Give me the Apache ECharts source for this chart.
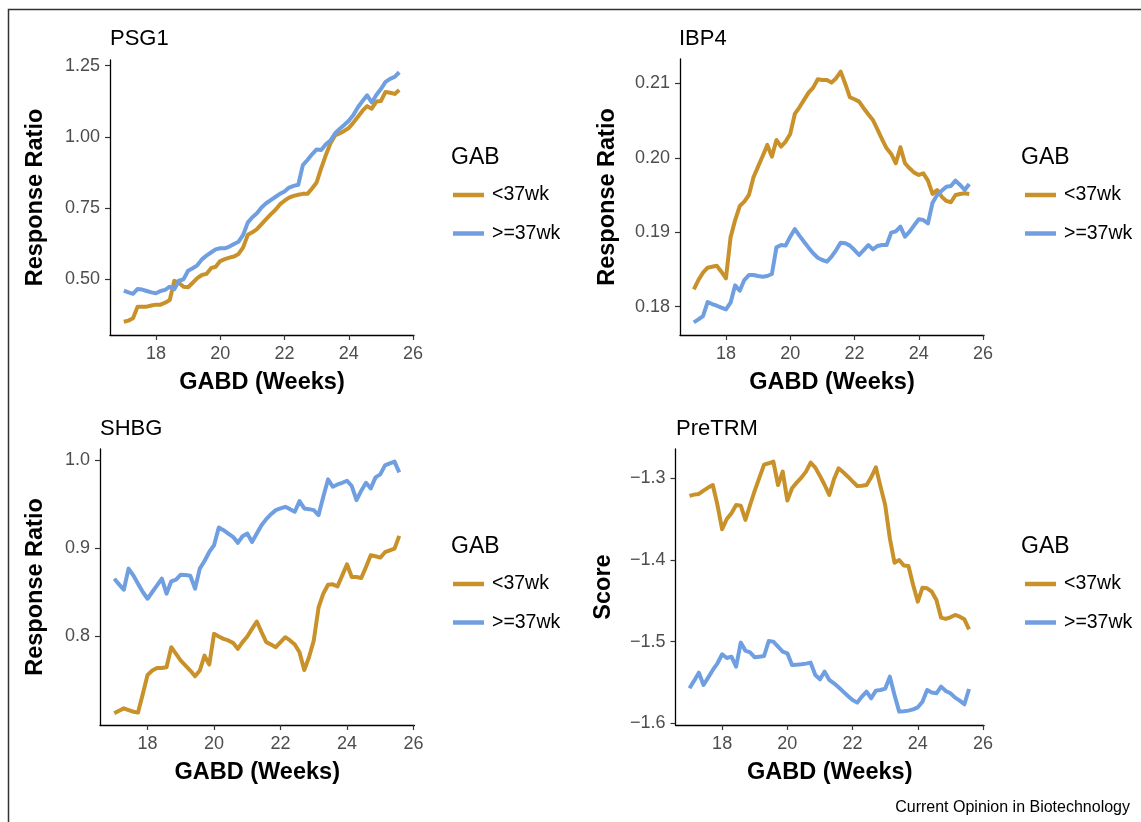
<!DOCTYPE html>
<html>
<head>
<meta charset="utf-8">
<script src="https://cdn.jsdelivr.net/npm/echarts@6/dist/echarts.min.js"></script>
<style>
  html, body { margin: 0; padding: 0; background: #fff; }
  #chart { width: 1141px; height: 822px; }
</style>
</head>
<body>
<div id="chart"></div>
<script>
// Gestational age at blood draw (weeks), one point per day
const weeks = [
  17, 17.143, 17.286, 17.429, 17.571, 17.714, 17.857,
  18, 18.143, 18.286, 18.429, 18.571, 18.714, 18.857,
  19, 19.143, 19.286, 19.429, 19.571, 19.714, 19.857,
  20, 20.143, 20.286, 20.429, 20.571, 20.714, 20.857,
  21, 21.143, 21.286, 21.429, 21.571, 21.714, 21.857,
  22, 22.143, 22.286, 22.429, 22.571, 22.714, 22.857,
  23, 23.143, 23.286, 23.429, 23.571, 23.714, 23.857,
  24, 24.143, 24.286, 24.429, 24.571, 24.714, 24.857,
  25, 25.143, 25.286, 25.429, 25.571
];
const seriesNames = ['<37wk', '>=37wk'];
const panelTitles = ['PSG1', 'IBP4', 'SHBG', 'PreTRM'];
const yTitles = ['Response Ratio', 'Response Ratio', 'Response Ratio', 'Score'];
const xTitle = 'GABD (Weeks)';
const legendTitle = 'GAB';
const footer = 'Current Opinion in Biotechnology';
const xTicks = [18, 20, 22, 24, 26];
const yTicksPSG1 = [0.5, 0.75, 1.0, 1.25];
const yTicksIBP4 = [0.18, 0.19, 0.20, 0.21];
const yTicksSHBG = [0.8, 0.9, 1.0];
const yTicksPreTRM = [-1.6, -1.5, -1.4, -1.3];

const psg1Pre = [0.351,0.355,0.363,0.404,0.404,0.404,0.408,0.411,0.411,0.418,0.427,0.495,0.488,0.474,0.472,0.488,0.504,0.515,0.519,0.539,0.544,0.564,0.571,0.576,0.580,0.589,0.612,0.656,0.665,0.676,0.694,0.711,0.728,0.743,0.763,0.776,0.787,0.793,0.797,0.800,0.800,0.819,0.840,0.890,0.936,0.977,1.005,1.012,1.021,1.031,1.050,1.071,1.092,1.108,1.099,1.124,1.126,1.158,1.155,1.151,1.165];
const psg1Term = [0.460,0.454,0.449,0.466,0.464,0.459,0.454,0.451,0.459,0.463,0.474,0.465,0.495,0.500,0.530,0.539,0.549,0.570,0.583,0.594,0.605,0.609,0.609,0.615,0.624,0.632,0.656,0.699,0.718,0.732,0.752,0.767,0.778,0.789,0.800,0.808,0.822,0.828,0.832,0.901,0.919,0.939,0.956,0.954,0.974,0.987,1.012,1.028,1.042,1.057,1.077,1.104,1.126,1.146,1.121,1.147,1.168,1.193,1.204,1.211,1.227];

const ibp4Pre = [0.18233,0.18358,0.18457,0.18524,0.18537,0.18551,0.18470,0.18381,0.18931,0.19164,0.19352,0.19411,0.19500,0.19738,0.19881,0.20024,0.20172,0.20015,0.20239,0.20150,0.20217,0.20320,0.20588,0.20678,0.20777,0.20875,0.20942,0.21054,0.21045,0.21045,0.21009,0.21068,0.21157,0.20991,0.20812,0.20785,0.20754,0.20665,0.20584,0.20508,0.20382,0.20248,0.20127,0.20051,0.19926,0.20141,0.19926,0.19858,0.19800,0.19769,0.19791,0.19693,0.19514,0.19567,0.19478,0.19420,0.19402,0.19500,0.19514,0.19523,0.19514];
const ibp4Term = [0.17790,0.17830,0.17875,0.18063,0.18036,0.18013,0.17987,0.17964,0.18054,0.18287,0.18215,0.18358,0.18425,0.18425,0.18412,0.18403,0.18412,0.18439,0.18797,0.18828,0.18820,0.18940,0.19043,0.18954,0.18873,0.18793,0.18717,0.18658,0.18627,0.18605,0.18672,0.18761,0.18860,0.18851,0.18820,0.18761,0.18694,0.18761,0.18828,0.18770,0.18815,0.18828,0.18828,0.18994,0.19012,0.19075,0.18940,0.19008,0.19093,0.19173,0.19164,0.19120,0.19397,0.19500,0.19558,0.19612,0.19621,0.19693,0.19635,0.19567,0.19648];

const shbgPre = [0.7129,0.7159,0.7186,0.7167,0.7148,0.7140,0.7348,0.7564,0.7614,0.7644,0.7644,0.7652,0.7879,0.7803,0.7727,0.7670,0.7614,0.7549,0.7614,0.7784,0.7682,0.8030,0.8000,0.7973,0.7955,0.7928,0.7860,0.7936,0.8000,0.8087,0.8170,0.8049,0.7936,0.7909,0.7879,0.7936,0.7992,0.7955,0.7909,0.7822,0.7621,0.7765,0.7955,0.8326,0.8485,0.8587,0.8591,0.8568,0.8693,0.8818,0.8674,0.8674,0.8663,0.8788,0.8920,0.8909,0.8894,0.8955,0.8977,0.8996,0.9140];
const shbgTerm = [0.8655,0.8591,0.8530,0.8769,0.8693,0.8598,0.8504,0.8428,0.8504,0.8580,0.8655,0.8485,0.8625,0.8644,0.8701,0.8697,0.8689,0.8542,0.8769,0.8856,0.8958,0.9034,0.9235,0.9205,0.9167,0.9129,0.9061,0.9136,0.9167,0.9072,0.9167,0.9261,0.9330,0.9386,0.9432,0.9451,0.9470,0.9443,0.9413,0.9534,0.9451,0.9443,0.9432,0.9375,0.9583,0.9780,0.9697,0.9723,0.9742,0.9765,0.9705,0.9545,0.9652,0.9742,0.9678,0.9803,0.9837,0.9939,0.9962,0.9981,0.9860];

const pretrmPre = [-1.3216,-1.3200,-1.3192,-1.3151,-1.3114,-1.3082,-1.3327,-1.3624,-1.3498,-1.3429,-1.3327,-1.3335,-1.3510,-1.3327,-1.3151,-1.2992,-1.2833,-1.2816,-1.2796,-1.3082,-1.2918,-1.3273,-1.3122,-1.3053,-1.2992,-1.2918,-1.2808,-1.2869,-1.2971,-1.3082,-1.3204,-1.3012,-1.2878,-1.2927,-1.2980,-1.3037,-1.3094,-1.3090,-1.3082,-1.2988,-1.2865,-1.3102,-1.3327,-1.3735,-1.4033,-1.4000,-1.4069,-1.4073,-1.4306,-1.4510,-1.4339,-1.4347,-1.4388,-1.4490,-1.4706,-1.4722,-1.4702,-1.4673,-1.4694,-1.4727,-1.4849];
const pretrmTerm = [-1.5571,-1.5478,-1.5380,-1.5531,-1.5441,-1.5347,-1.5265,-1.5155,-1.5200,-1.5184,-1.5306,-1.5012,-1.5110,-1.5131,-1.5192,-1.5184,-1.5176,-1.4992,-1.5000,-1.5061,-1.5122,-1.5143,-1.5286,-1.5282,-1.5278,-1.5269,-1.5257,-1.5408,-1.5461,-1.5367,-1.5469,-1.5510,-1.5559,-1.5612,-1.5665,-1.5714,-1.5747,-1.5673,-1.5612,-1.5694,-1.5600,-1.5592,-1.5576,-1.5429,-1.5653,-1.5857,-1.5853,-1.5845,-1.5829,-1.5804,-1.5735,-1.5592,-1.5624,-1.5633,-1.5551,-1.5604,-1.5633,-1.5686,-1.5722,-1.5767,-1.5580];

const COLORS = ['#C8912A', '#6F9FE1'];
const FONT = '"Liberation Sans", Arial, Helvetica, sans-serif';

const panels = [
  { pre: psg1Pre, term: psg1Term, yTicks: yTicksPSG1, dec: 2, ymin: 0.3044, ymax: 1.2700,
    grid: { left: 110, width: 304, top: 60, height: 275 }, nameGap: 62,
    legend: { left: 453, top: 185 }, gab: { x: 451, y: 158 }, title: { left: 110, top: 28 } },
  { pre: ibp4Pre, term: ibp4Term, yTicks: yTicksIBP4, dec: 2, ymin: 0.1762, ymax: 0.21326,
    grid: { left: 680, width: 304, top: 59, height: 276 }, nameGap: 60,
    legend: { left: 1025, top: 185 }, gab: { x: 1021, y: 158 }, title: { left: 679, top: 28 } },
  { pre: shbgPre, term: shbgTerm, yTicks: yTicksSHBG, dec: 1, ymin: 0.69972, ymax: 1.01246,
    grid: { left: 100, width: 314.5, top: 449, height: 276 }, nameGap: 52,
    legend: { left: 453, top: 574 }, gab: { x: 451, y: 547 }, title: { left: 100, top: 418 } },
  { pre: pretrmPre, term: pretrmTerm, yTicks: yTicksPreTRM, dec: 1, ymin: -1.60208, ymax: -1.26412,
    grid: { left: 675.5, width: 308.5, top: 449, height: 276 }, nameGap: 60,
    legend: { left: 1025, top: 574 }, gab: { x: 1021, y: 547 }, title: { left: 676, top: 418 } }
];

const chart = echarts.init(document.getElementById('chart'), null, { renderer: 'canvas' });

const grids = [], xAxes = [], yAxes = [], series = [], legends = [], titles = [], graphics = [];

panels.forEach((p, i) => {
  grids.push(Object.assign({ containLabel: false }, p.grid));
  titles.push({
    text: panelTitles[i], left: p.title.left, top: p.title.top,
    textStyle: { fontFamily: FONT, fontSize: 22, fontWeight: 'normal', color: '#000' }, padding: 0
  });
  xAxes.push({
    type: 'value', gridIndex: i, min: 16.57, max: 26.03,
    name: xTitle, nameLocation: 'middle', nameGap: 36,
    nameTextStyle: { fontFamily: FONT, fontSize: 23.5, fontWeight: 'bold', color: '#000' },
    splitLine: { show: false },
    axisLine: { show: true, onZero: false, lineStyle: { color: '#000', width: 1.3 } },
    axisTick: { show: true, length: 5, customValues: xTicks, lineStyle: { color: '#333', width: 1.2 } },
    axisLabel: { customValues: xTicks, margin: 10, fontFamily: FONT, fontSize: 18, color: '#4d4d4d',
      formatter: v => String(v) }
  });
  yAxes.push({
    type: 'value', gridIndex: i, min: p.ymin, max: p.ymax,
    name: yTitles[i], nameLocation: 'middle', nameRotate: 90, nameGap: p.nameGap,
    nameTextStyle: { fontFamily: FONT, fontSize: 23.5, fontWeight: 'bold', color: '#000' },
    splitLine: { show: false },
    axisLine: { show: true, onZero: false, lineStyle: { color: '#000', width: 1.3 } },
    axisTick: { show: true, length: 5, customValues: p.yTicks, lineStyle: { color: '#333', width: 1.2 } },
    axisLabel: { customValues: p.yTicks, margin: 10, fontFamily: FONT, fontSize: 18, color: '#4d4d4d',
      formatter: v => v.toFixed(p.dec).replace('-', '\u2212') }
  });
  [p.pre, p.term].forEach((vals, k) => {
    series.push({
      type: 'line', name: seriesNames[k], xAxisIndex: i, yAxisIndex: i,
      data: weeks.map((w, j) => [w, vals[j]]),
      showSymbol: false, symbol: 'none', smooth: false,
      lineStyle: { color: COLORS[k], width: 4, join: 'round' },
      itemStyle: { color: COLORS[k] },
      emphasis: { disabled: true }, silent: true, animation: false
    });
  });
  legends.push({
    orient: 'vertical', left: p.legend.left, top: p.legend.top,
    data: seriesNames.map(n => ({ name: n, icon: 'rect' })),
    itemWidth: 31, itemHeight: 4.5, itemGap: 18.5, padding: 0, selectedMode: false,
    textStyle: { fontFamily: FONT, fontSize: 19.5, color: '#000', lineHeight: 20, padding: [0, 0, 0, 3] }
  });
  graphics.push({
    type: 'text', x: p.gab.x, y: p.gab.y,
    style: { text: legendTitle, font: '23px ' + FONT, fill: '#000', verticalAlign: 'middle', textVerticalAlign: 'middle' }
  });
});

graphics.push({
  type: 'text', x: 1130, y: 808,
  style: { text: footer, font: '16px ' + FONT, fill: '#000', align: 'right', textAlign: 'right',
    verticalAlign: 'middle', textVerticalAlign: 'middle' }
});
graphics.push({
  type: 'polyline', silent: true,
  shape: { points: [[8.5, 822], [8.5, 9.5], [1141, 9.5]] },
  style: { stroke: '#333', lineWidth: 1.5, fill: null }
});

chart.setOption({
  backgroundColor: '#fff',
  animation: false,
  color: COLORS,
  title: titles,
  grid: grids,
  xAxis: xAxes,
  yAxis: yAxes,
  legend: legends,
  series: series,
  graphic: graphics
});
</script>
</body>
</html>
